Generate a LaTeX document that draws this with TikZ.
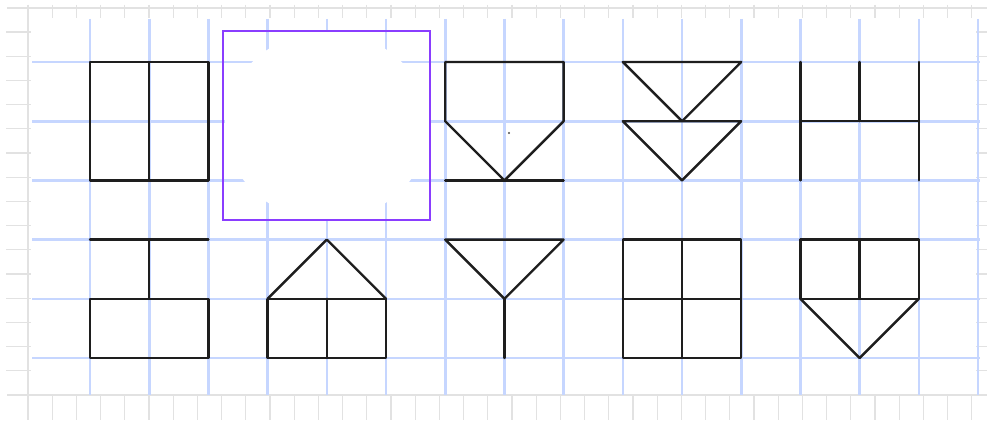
\documentclass[tikz,border=0pt]{standalone}
\begin{document}
\begin{tikzpicture}[x=1pt,y=-1pt,
  rulerline/.style={draw={rgb,255:red,226;green,226;blue,226},line width=1.2pt},
  gridline/.style={draw={rgb,255:red,198;green,214;blue,255},line width=2.6pt},
  figline/.style={draw={rgb,255:red,30;green,30;blue,30},line width=2.4pt,line join=round,line cap=round},
  framebox/.style={draw={rgb,255:red,138;green,61;blue,255},line width=2.6pt}]
\useasboundingbox[fill=white] (0,0) rectangle (987,420);
% ruler
\draw[rulerline] (7,8) -- (987,8);
\draw[rulerline] (28,5) -- (28,420);
\draw[rulerline] (7,395) -- (987,395);
\foreach \k in {0,...,39} {
  \draw[rulerline] ({28+24.2*\k},5) -- ({28+24.2*\k},18);
  \draw[rulerline] ({28+24.2*\k},395) -- ({28+24.2*\k},420);
}
\foreach \k in {0,...,14} {
  \draw[rulerline] (6,{32+24.2*\k}) -- (31,{32+24.2*\k});
  \draw[rulerline] (976,{32+24.2*\k}) -- (987,{32+24.2*\k});
}
% blue grid
\foreach \i in {0,...,15} \draw[gridline] ({90+59.2*\i},19) -- ({90+59.2*\i},395);
\foreach \j in {0,...,5} \draw[gridline] (32,{62+59.2*\j}) -- (980,{62+59.2*\j});
% blank answer box
\fill[white] (327,126) ellipse [x radius=102, y radius=94];
\draw[framebox] (223,31) rectangle (430,220);
% figures on grid units
\begin{scope}[shift={(90,62)},x=59.2pt,y=-59.2pt,figline]
  % fig 1
  \draw (0,0) rectangle (2,2);
  \draw (1,0) -- (1,2);
  % fig 3
  \draw (6,1) -- (6,0) -- (8,0) -- (8,1) -- (7,2) -- cycle;
  \draw (6,2) -- (8,2);
  % fig 4
  \draw (9,0) -- (11,0) -- (10,1) -- cycle;
  \draw (9,1) -- (11,1) -- (10,2) -- cycle;
  % fig 5
  \draw (12,0) -- (12,2);
  \draw (14,0) -- (14,2);
  \draw (13,0) -- (13,1);
  \draw (12,1) -- (14,1);
  % fig 6
  \draw (0,3) -- (2,3);
  \draw (1,3) -- (1,4);
  \draw (0,4) rectangle (2,5);
  % fig 7
  \draw (3,4) -- (4,3) -- (5,4);
  \draw (3,4) rectangle (5,5);
  \draw (4,4) -- (4,5);
  % fig 8
  \draw (6,3) -- (8,3) -- (7,4) -- cycle;
  \draw (7,4) -- (7,5);
  % fig 9
  \draw (9,3) rectangle (11,5);
  \draw (10,3) -- (10,5);
  \draw (9,4) -- (11,4);
  % fig 10
  \draw (12,3) rectangle (14,4);
  \draw (13,3) -- (13,4);
  \draw (12,4) -- (13,5) -- (14,4);
\end{scope}
\fill[black!70] (509,133) circle (1.1);
\end{tikzpicture}
\end{document}
